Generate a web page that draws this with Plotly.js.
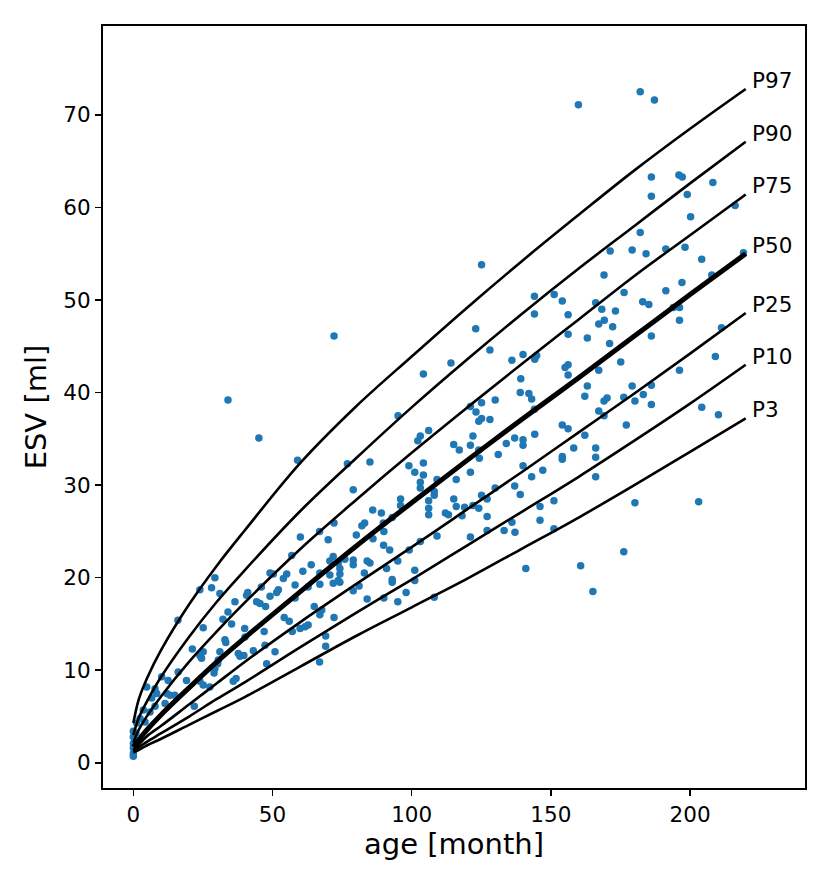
<!DOCTYPE html>
<html><head><meta charset="utf-8">
<script src="https://cdn.plot.ly/plotly-3.0.1.min.js"></script>
<style>html,body{margin:0;padding:0;background:#fff}</style>
</head><body>
<div id="chart" style="width:830px;height:883px"></div>
<script>
// scatter data
const ageMonths = [
159.9,125.1,182.1,187.2,186.1,196.0,197.2,208.2,186.1,199.0,216.2,200.2,182.1,171.3,179.2,184.2,191.3,198.2,204.2,219.2,169.1,207.8,
197.1,176.3,191.3,166.1,183.0,185.2,168.3,173.2,194.0,196.2,169.2,167.2,172.2,196.2,211.3,163.1,186.1,171.1,175.1,209.1,167.2,196.2,163.1,162.2,179.2,186.1,183.2,169.1,170.2,176.2,180.2,186.1,167.2,169.1,204.2,210.2,177.1,162.2,166.1,166.1,166.1,180.2,203.1,
176.2,160.7,165.1,141.0,
144.1,151.2,154.1,144.1,156.2,123.0,156.2,128.1,136.0,140.0,144.9,144.2,114.1,104.2,156.2,155.1,156.2,139.2,139.0,142.1,143.1,130.0,125.1,121.1,123.1,144.1,125.1,124.1,128.1,95.1,154.1,156.2,106.1,103.1,102.2,144.2,122.0,137.0,140.0,140.0,134.0,115.1,117.1,121.1,124.1,124.3,131.1,158.2,154.1,154.1,76.9,85.0,99.0,104.2,101.1,104.2,103.1,103.1,109.1,116.0,121.1,140.0,147.1,143.1,130.0,137.0,139.0,79.0,108.1,108.1,106.1,96.0,96.0,115.1,116.0,119.0,122.0,124.1,125.1,127.1,146.1,151.1,86.0,89.1,106.1,106.1,112.1,113.2,118.1,127.1,136.0,146.1,93.0,83.1,82.1,89.8,127.1,133.2,151.1,
80.1,90.0,86.1,89.9,92.1,103.1,109.1,99.1,121.1,137.1,76.0,79.0,79.0,84.0,85.0,95.0,74.2,74.2,74.2,91.0,101.1,83.0,93.0,93.0,101.1,81.1,79.0,98.0,84.0,90.0,95.0,108.1,
72.1,34.0,45.1,59.0,66.9,72.1,
60.0,70.0,56.9,71.8,70.6,73.6,63.9,60.9,49.1,50.3,55.1,53.9,67.0,70.6,71.8,73.6,67.0,62.8,58.1,52.1,51.5,41.1,40.7,31.1,23.9,28.1,29.3,46.0,36.5,44.3,45.5,47.5,49.1,58.1,65.0,67.7,67.0,72.1,34.0,32.2,16.0,25.1,35.3,40.0,47.0,54.2,56.0,59.9,61.7,62.8,57.1,69.1,32.9,33.2,40.1,47.3,50.9,69.1,25.1,21.2,23.9,24.5,30.5,31.1,37.7,38.3,39.7,43.1,30.3,29.3,29.0,47.9,66.9,16.1,19.1,23.9,25.1,27.5,35.9,36.9,10.2,12.5,4.8,7.8,8.4,6.6,12.0,13.2,14.9,11.4,21.9,7.8,6.0,3.6,2.4,4.2,1.2,0,0,0,0,0,0,0.6,0.9
];
const esvMl = [
71.1,53.8,72.5,71.6,63.3,63.5,63.3,62.7,61.2,61.4,60.2,59.0,57.3,55.3,55.4,55.0,55.5,55.7,54.4,55.1,52.7,52.7,
51.9,50.8,51.0,49.7,49.8,49.5,49.0,48.8,49.2,49.2,47.8,47.4,47.1,47.8,47.0,45.9,46.1,45.3,43.3,43.9,42.4,42.4,40.7,39.6,40.7,40.8,39.8,39.1,39.4,39.5,39.1,38.7,38.0,37.5,38.4,37.6,36.5,35.4,34.0,33.0,30.9,28.1,28.2,
22.8,21.3,18.5,21.0,
50.4,50.6,49.9,48.5,48.4,46.9,46.3,44.6,43.5,44.1,44.0,43.6,43.2,42.0,43.0,42.7,41.9,41.5,40.0,39.9,39.3,39.2,38.9,38.5,37.9,38.2,37.2,36.9,37.1,37.5,36.5,36.1,35.9,35.3,34.8,35.5,35.3,35.1,34.9,34.3,34.5,34.4,33.8,34.3,33.8,32.9,33.3,34.0,33.1,32.8,32.3,32.5,32.1,32.4,31.4,31.1,30.3,29.7,30.6,30.6,31.4,32.1,31.6,30.9,29.7,29.9,29.0,29.5,29.3,28.9,28.3,28.5,27.8,28.5,27.7,27.6,27.8,27.5,28.9,28.5,27.7,28.3,27.3,27.0,27.5,26.8,27.0,26.8,26.7,26.6,26.0,26.2,26.5,25.9,25.6,25.9,25.1,25.1,25.3,
24.6,25.0,24.2,23.5,23.0,23.9,24.5,23.0,24.4,24.9,22.0,21.9,21.4,21.8,21.6,21.8,21.0,20.4,19.5,21.0,20.8,20.5,19.8,19.5,19.7,19.1,18.6,18.4,17.7,17.8,17.4,17.9,
46.1,39.2,35.1,32.7,25.0,25.9,
24.4,24.1,22.4,22.3,21.8,21.6,21.4,20.7,20.5,20.4,20.4,19.9,20.5,20.3,19.4,19.7,19.3,19.0,19.2,18.7,18.4,18.4,18.1,18.3,18.7,18.9,20.0,19.0,17.4,17.4,17.2,16.9,18.0,17.8,16.9,16.5,16.0,15.7,16.3,15.5,15.4,14.6,15.0,14.5,14.2,15.7,15.3,14.5,14.7,14.9,14.2,13.7,13.3,13.0,13.6,12.7,12.0,12.6,12.0,12.3,11.6,11.3,11.1,12.0,11.8,11.5,11.6,12.1,10.7,10.2,9.7,10.7,10.9,9.8,8.9,8.8,8.4,8.2,8.8,9.1,9.3,8.9,8.2,8.0,7.5,7.0,7.5,7.3,7.3,6.4,6.1,6.1,5.5,5.7,4.8,4.4,4.3,3.4,2.8,2.1,1.6,1.0,0.7,2.5,3.2
];

// percentile curves
const curveAge = [0,2,5,10,20,30,40,60,80,100,120,140,160,180,200,220];
const p3  = [1.1,1.4,1.9,2.6,4.1,5.6,7.1,10.4,13.7,16.8,19.9,23.2,26.5,30.0,33.6,37.2];
const p10 = [1.2,1.7,2.3,3.2,5.0,6.9,8.7,12.5,16.2,19.8,23.5,27.2,30.9,34.8,38.8,43.0];
const p25 = [1.4,2.0,2.9,4.0,6.3,8.6,10.9,15.2,19.3,23.3,27.4,31.5,35.7,39.9,44.2,48.6];
const p50 = [1.7,2.5,3.6,5.2,8.1,10.9,13.5,18.5,23.4,28.1,32.7,37.2,41.6,46.1,50.6,55.0];
const p75 = [2.2,3.6,5.1,7.2,10.9,14.2,17.3,23.1,28.4,33.5,38.4,43.2,47.9,52.6,57.0,61.4];
const p90 = [3.0,4.9,6.7,9.3,13.6,17.4,20.8,27.2,32.9,38.4,43.6,48.6,53.4,58.0,62.6,67.1];
const p97 = [4.3,6.9,9.2,12.2,17.1,21.3,25.1,32.4,38.5,43.9,49.2,54.3,59.2,64.0,68.5,72.8];
const percentileNames = ['P3','P10','P25','P50','P75','P90','P97'];
const percentileValues = [p3,p10,p25,p50,p75,p90,p97];

const xTicks = [0,50,100,150,200];
const yTicks = [0,10,20,30,40,50,60,70];

const traces = [{
  type:'scatter', mode:'markers', x:ageMonths, y:esvMl,
  marker:{color:'#1f77b4', size:7.5, line:{width:0}}, hoverinfo:'skip'
}];
const annotations = [];
percentileNames.forEach((name,i)=>{
  const vals = percentileValues[i];
  traces.push({
    type:'scatter', mode:'lines', x:curveAge, y:vals,
    line:{color:'#000', width: name==='P50'?5:2.6, shape:'spline', smoothing:1},
    hoverinfo:'skip'
  });
  annotations.push({
    x: curveAge[curveAge.length-1], y: vals[vals.length-1], xref:'x', yref:'y',
    text:name, showarrow:false, xanchor:'left', yanchor:'bottom',
    xshift:4, yshift:-6, font:{size:21.5, color:'#000', family:'DejaVu Sans'}
  });
});

const axisBase = {
  ticks:'outside', ticklen:6.5, tickwidth:1.6, tickcolor:'#000',
  showline:true, linewidth:1.6, linecolor:'#000', mirror:true,
  showgrid:false, zeroline:false, tickfont:{size:21.5, color:'#000'},
  automargin:false, tickmode:'array'
};
const layout = {
  width:830, height:883,
  margin:{l:103, r:25, t:26, b:95},
  paper_bgcolor:'#fff', plot_bgcolor:'#fff',
  font:{family:'DejaVu Sans', color:'#000'},
  showlegend:false,
  xaxis: Object.assign({}, axisBase, {
    range:[-10.9,241.3], tickvals:xTicks,
    title:{text:'age [month]', font:{size:29, color:'#000'}, standoff:6}
  }),
  yaxis: Object.assign({}, axisBase, {
    range:[-2.72,79.6], tickvals:yTicks,
    title:{text:'ESV [ml]', font:{size:29, color:'#000'}, standoff:8}
  }),
  annotations: annotations
};
Plotly.newPlot('chart', traces, layout, {staticPlot:true, displayModeBar:false});
</script>
</body></html>
